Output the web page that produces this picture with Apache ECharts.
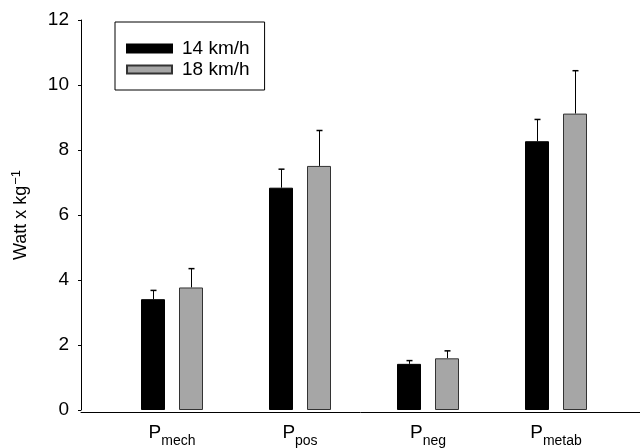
<!DOCTYPE html>
<html><head><meta charset="utf-8">
<script src="https://cdn.jsdelivr.net/npm/echarts@6/dist/echarts.min.js"></script>
<style>html,body{margin:0;padding:0;background:#fff}#c{width:640px;height:448px}</style>
</head><body><div id="c"></div>
<script>
const categories = ['mech', 'pos', 'neg', 'metab'];
const seriesNames = ['14 km/h', '18 km/h'];
const mean14 = [3.41, 6.84, 1.42, 8.27];
const err14 = [0.27, 0.57, 0.10, 0.67];
const mean18 = [3.77, 7.51, 1.59, 9.12];
const err18 = [0.58, 1.09, 0.23, 1.32];
const yTicks = [0, 2, 4, 6, 8, 10, 12];

const FONT = 'Liberation Sans, Arial, sans-serif';
const BAR_W = 24, BAR_GAP = 14;
const chart = echarts.init(document.getElementById('c'));

function errSeries(means, errs, dir) {
  return {
    type: 'custom', xAxisIndex: 0, yAxisIndex: 0, z: 1,
    data: means.map((m, i) => [i, m, m + errs[i]]),
    renderItem: function (params, api) {
      const off = dir * (BAR_W + BAR_GAP) / 2;
      const lo = api.coord([api.value(0), api.value(1)]);
      const hi = api.coord([api.value(0), api.value(2)]);
      const x = Math.round(lo[0] + off) + 0.5;
      return { type: 'group', children: [
        { type: 'line', shape: { x1: x, y1: lo[1], x2: x, y2: hi[1] }, style: { stroke: '#000', lineWidth: 1 } },
        { type: 'line', shape: { x1: x - 3, y1: hi[1], x2: x + 3, y2: hi[1] }, style: { stroke: '#000', lineWidth: 1.5 } }
      ]};
    }
  };
}

chart.setOption({
  animation: false,
  textStyle: { fontFamily: FONT },
  grid: [
    { left: 108, right: 20, top: 20, bottom: 36 },
    { left: 81, right: 0, top: 20, bottom: 36 }
  ],
  legend: {
    orient: 'vertical', left: 115, top: 22,
    data: seriesNames,
    itemWidth: 45, itemHeight: 8, itemGap: 2,
    padding: [17, 15, 11, 11],
    borderColor: '#000', borderWidth: 1,
    textStyle: { fontSize: 19, lineHeight: 14, color: '#000', fontFamily: FONT, padding: [0, 0, 0, 5] },
    icon: 'rect'
  },
  xAxis: [
    { type: 'category', gridIndex: 0, data: categories,
      axisLine: { show: false }, axisTick: { show: false },
      axisLabel: { margin: 12, interval: 0,
        formatter: v => '{p|P}{s|' + v + '}',
        rich: {
          p: { fontSize: 19, color: '#000', fontFamily: FONT, verticalAlign: 'bottom', lineHeight: 20 },
          s: { fontSize: 14, color: '#000', fontFamily: FONT, verticalAlign: 'bottom', lineHeight: 14, padding: [0, 0, -6, 0] }
        } } },
    { type: 'value', gridIndex: 1, min: 0, max: 1,
      axisLine: { show: true, lineStyle: { color: '#000', width: 1 } },
      axisTick: { show: false }, axisLabel: { show: false }, splitLine: { show: false } }
  ],
  yAxis: [
    { type: 'value', gridIndex: 0, min: 0, max: 12, interval: 2, offset: 27,
      axisLine: { show: true, lineStyle: { color: '#000', width: 1 } },
      axisTick: { show: true, inside: false, length: 3, lineStyle: { color: '#000' } },
      splitLine: { show: false },
      axisLabel: { fontSize: 19, color: '#000', fontFamily: FONT, margin: 12,
        formatter: v => yTicks.indexOf(v) >= 0 ? String(v) : '' },
      name: '{a|Watt x kg}{b|\u22121}', nameLocation: 'middle', nameGap: 49, nameRotate: 90,
      nameTextStyle: { rich: {
        a: { fontSize: 18, color: '#000', fontFamily: FONT },
        b: { fontSize: 13, color: '#000', fontFamily: FONT, verticalAlign: 'top', padding: [0, 0, 9, 1] }
      } } },
    { type: 'value', gridIndex: 1, min: 0, max: 12, show: false }
  ],
  series: [
    { name: seriesNames[0], type: 'bar', xAxisIndex: 0, yAxisIndex: 0, data: mean14,
      barWidth: BAR_W, barGap: (BAR_GAP / BAR_W * 100) + '%', z: 2,
      itemStyle: { color: '#000', borderColor: '#000', borderWidth: 1 } },
    { name: seriesNames[1], type: 'bar', xAxisIndex: 0, yAxisIndex: 0, data: mean18,
      barWidth: BAR_W, barGap: (BAR_GAP / BAR_W * 100) + '%', z: 2,
      itemStyle: { color: '#a6a6a6', borderColor: '#333', borderWidth: 1 } },
    errSeries(mean14, err14, -1),
    errSeries(mean18, err18, 1)
  ]
});
</script></body></html>
